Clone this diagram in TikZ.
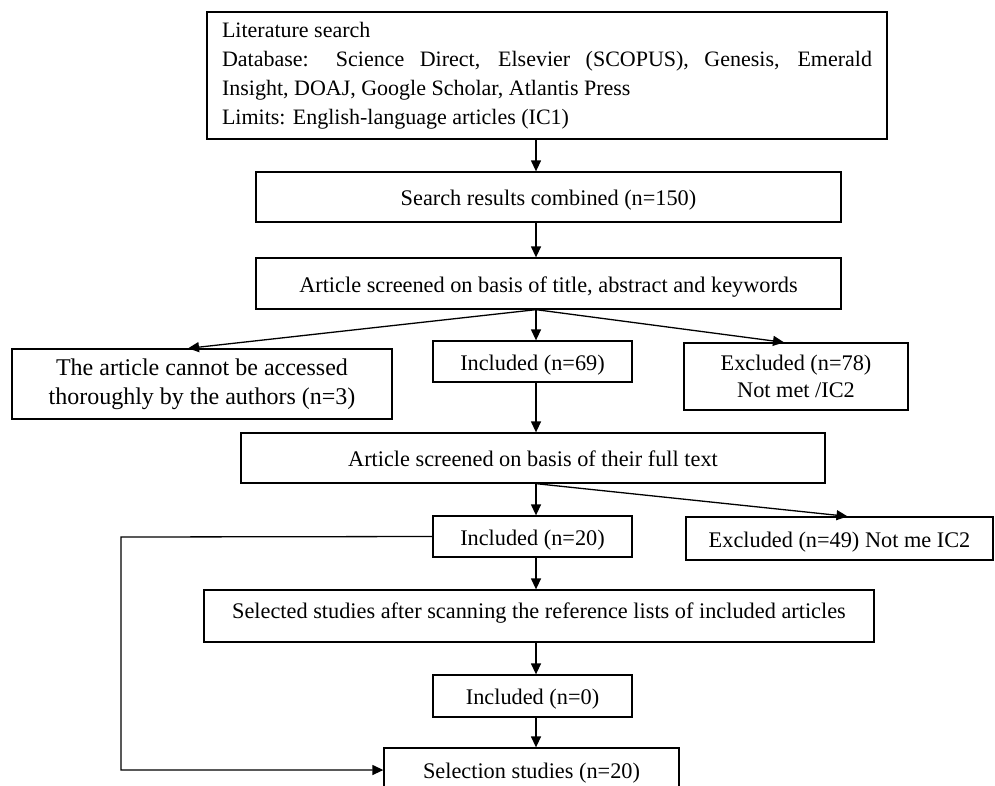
\documentclass[tikz,border=0pt]{standalone}
\usepackage{fontspec}
\setmainfont{Liberation Serif}
\usetikzlibrary{arrows.meta}

\begin{document}
\begin{tikzpicture}[x=1pt, y=-1pt, line width=1.3pt,
  >={Triangle[length=11pt,width=10pt]},
  flowbox/.style={draw, inner sep=0pt, align=center, font=\fontsize{22.3}{27}\selectfont},
  oneline/.style={text height=17pt, text depth=0pt}]
\useasboundingbox (0,0) rectangle (995,785);

\node[flowbox, minimum width=680pt, minimum height=127pt, text width=650pt, align=justify, font=\fontsize{22}{29}\selectfont] (lit) at (547,75.5)
  {Literature search\\
   Database: Science Direct, Elsevier (SCOPUS), Genesis, Emerald\linebreak Insight, DOAJ, Google Scholar, Atlantis Press\\
   Limits: English-language articles (IC1)};

\node[flowbox, oneline, minimum width=585pt, minimum height=50pt] (comb) at (548.5,197) {Search results combined (n=150)};
\node[flowbox, oneline, minimum width=585pt, minimum height=51pt] (scr1) at (548.5,283.5) {Article screened on basis of title, abstract and keywords};

\node[flowbox, minimum width=380pt, minimum height=70pt, font=\fontsize{24}{29}\selectfont] (noacc) at (202,384) {The article cannot be accessed\\thoroughly by the authors (n=3)};
\node[flowbox, oneline, minimum width=199pt, minimum height=41pt] (inc1) at (532.5,361.5) {Included (n=69)};
\node[flowbox, minimum width=224pt, minimum height=67pt] (exc1) at (796,376.5) {Excluded (n=78)\\Not met /IC2};

\node[flowbox, oneline, minimum width=584pt, minimum height=50pt] (scr2) at (533,458) {Article screened on basis of their full text};

\node[flowbox, oneline, minimum width=199pt, minimum height=41pt] (inc2) at (532.5,536.5) {Included (n=20)};
\node[flowbox, oneline, minimum width=307pt, minimum height=43pt] (exc2) at (839.5,538.5) {Excluded (n=49) Not me IC2};

\node[flowbox, text height=6pt, text depth=2pt, minimum width=670pt, minimum height=52pt] (sel) at (539,616) {Selected studies after scanning the reference lists of included articles};
\node[flowbox, oneline, minimum width=199pt, minimum height=42pt] (inc3) at (532.5,696) {Included (n=0)};
\node[flowbox, oneline, minimum width=295pt, minimum height=44pt] (fin) at (531.5,770) {Selection studies (n=20)};

\coordinate (spine) at (536,0);
\coordinate (bend) at (121,537);

\draw[->] (lit.south -| spine) -- (comb.north -| spine);
\draw[->] (comb.south -| spine) -- (scr1.north -| spine);
\draw[->] (scr1.south -| spine) -- ([xshift=-14pt]noacc.north);
\draw[->] (scr1.south -| spine) -- (inc1.north -| spine);
\draw[->] (scr1.south -| spine) -- ([xshift=-12pt]exc1.north);
\draw[->] (inc1.south -| spine) -- (scr2.north -| spine);
\draw[->] (scr2.south -| spine) -- (inc2.north -| spine);
\draw[->] (scr2.south -| spine) -- ([xshift=8pt]exc2.north);
\draw[->] (inc2.south -| spine) -- (sel.north -| spine);
\draw[->] (sel.south -| spine) -- (inc3.north -| spine);
\draw[->] (inc3.south -| spine) -- (fin.north -| spine);
\draw[->] (inc2.west) -- (bend) |- (fin.west);

\end{tikzpicture}
\end{document}
